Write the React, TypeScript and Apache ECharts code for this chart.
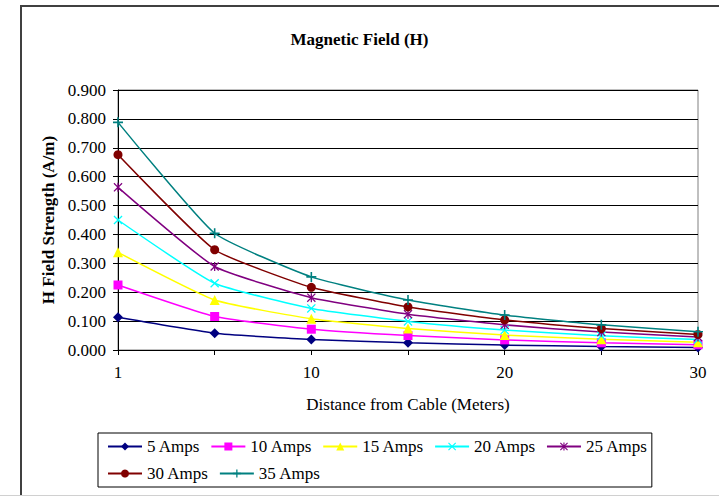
import React, { useEffect, useRef } from "react";
import * as echarts from "echarts";

const categories = ["1", "5", "10", "15", "20", "25", "30"];
const amps5 = [0.113, 0.058, 0.036, 0.025, 0.017, 0.012, 0.009];
const amps10 = [0.225, 0.116, 0.072, 0.05, 0.035, 0.025, 0.018];
const amps15 = [0.338, 0.173, 0.108, 0.074, 0.052, 0.037, 0.027];
const amps20 = [0.45, 0.231, 0.144, 0.099, 0.069, 0.049, 0.036];
const amps25 = [0.563, 0.289, 0.181, 0.124, 0.087, 0.062, 0.045];
const amps30 = [0.676, 0.347, 0.217, 0.149, 0.104, 0.074, 0.054];
const amps35 = [0.788, 0.404, 0.253, 0.173, 0.121, 0.087, 0.063];
const yTicks = [0, 0.1, 0.2, 0.3, 0.4, 0.5, 0.6, 0.7, 0.8, 0.9];

const FONT = "'Liberation Serif', 'Times New Roman', serif";

const PLUS = "path://M4.2,0 L5.8,0 L5.8,4.2 L10,4.2 L10,5.8 L5.8,5.8 L5.8,10 L4.2,10 L4.2,5.8 L0,5.8 L0,4.2 L4.2,4.2 Z";
const CROSS = "path://M0,1 L1,0 L5,4 L9,0 L10,1 L6,5 L10,9 L9,10 L5,6 L1,10 L0,9 L4,5 Z";
const STAR = "path://M0,1 L1,0 L5,4 L9,0 L10,1 L6,5 L10,9 L9,10 L5,6 L1,10 L0,9 L4,5 Z M4.3,0 L5.7,0 L5.7,10 L4.3,10 Z";

const seriesDefs = [
  { name: "5 Amps", data: amps5, color: "#000080", symbol: "diamond", size: 10 },
  { name: "10 Amps", data: amps10, color: "#FF00FF", symbol: "rect", size: 9 },
  { name: "15 Amps", data: amps15, color: "#FFFF00", symbol: "triangle", size: 10 },
  { name: "20 Amps", data: amps20, color: "#00FFFF", symbol: CROSS, size: 9 },
  { name: "25 Amps", data: amps25, color: "#800080", symbol: STAR, size: 9 },
  { name: "30 Amps", data: amps30, color: "#800000", symbol: "circle", size: 9 },
  { name: "35 Amps", data: amps35, color: "#008080", symbol: PLUS, size: 10 },
];

export default function App() {
  const ref = useRef<HTMLDivElement>(null);
  useEffect(() => {
    if (!ref.current) return;
    const chart = echarts.init(ref.current, null, { renderer: "svg" });
    chart.setOption({
      animation: false,
      backgroundColor: "#fff",
      title: {
        text: "Magnetic Field (H)",
        left: "center",
        top: 26,
        textStyle: { fontFamily: FONT, fontSize: 17, fontWeight: "bold", color: "#000" },
      },
      grid: {
        left: 118,
        right: 21,
        top: 90,
        bottom: 146,
        show: true,
        borderColor: "#808080",
        borderWidth: 1,
      },
      xAxis: {
        type: "category",
        data: categories,
        boundaryGap: false,
        name: "Distance from Cable (Meters)",
        nameLocation: "middle",
        nameGap: 46,
        nameTextStyle: { fontFamily: FONT, fontSize: 17, color: "#000" },
        axisLine: { lineStyle: { color: "#000", width: 1 } },
        axisTick: { show: true, interval: 0, length: 5, lineStyle: { color: "#000" } },
        axisLabel: { interval: 1, margin: 14, fontFamily: FONT, fontSize: 17, color: "#000" },
        splitLine: { show: false },
      },
      yAxis: {
        type: "value",
        min: 0,
        max: 0.9,
        interval: 0.1,
        name: "H Field Strength (A/m)",
        nameLocation: "middle",
        nameGap: 60,
        nameTextStyle: { fontFamily: FONT, fontSize: 17, fontWeight: "bold", color: "#000" },
        axisLine: { show: true, lineStyle: { color: "#000", width: 1 } },
        axisTick: { show: true, length: 5, lineStyle: { color: "#000" } },
        axisLabel: {
          margin: 12,
          fontFamily: FONT,
          fontSize: 17,
          color: "#000",
          formatter: (v: number) => {
            const t = yTicks.find((x) => Math.abs(x - v) < 1e-9);
            return (t !== undefined ? t : v).toFixed(3);
          },
        },
        splitLine: { show: true, lineStyle: { color: "#000", width: 1 } },
      },
      legend: {
        left: 98,
        top: 433,
        width: 560,
        orient: "horizontal",
        padding: [5, 4, 5, 9],
        borderColor: "#000",
        borderWidth: 1,
        itemWidth: 34,
        itemHeight: 10,
        itemGap: 10,
        textStyle: { fontFamily: FONT, fontSize: 17, color: "#000", width: 64 },
        data: seriesDefs.map((s) => s.name),
      },
      graphic: [
        { type: "line", shape: { x1: 21, y1: 6, x2: 21, y2: 495 }, style: { stroke: "#404040", lineWidth: 2 }, silent: true },
        { type: "line", shape: { x1: 20, y1: 6, x2: 719, y2: 6 }, style: { stroke: "#404040", lineWidth: 2 }, silent: true },
        { type: "line", shape: { x1: 0, y1: 495.5, x2: 719, y2: 495.5 }, style: { stroke: "#d0d0d0", lineWidth: 1 }, silent: true },
      ],
      series: seriesDefs.map((s) => ({
        name: s.name,
        type: "line",
        data: s.data,
        smooth: 0.15,
        symbol: s.symbol,
        symbolSize: s.size,
        showAllSymbol: true,
        lineStyle: { color: s.color, width: 1.5 },
        itemStyle: { color: s.color, borderWidth: 0 },
        color: s.color,
      })),
    });
    return () => chart.dispose();
  }, []);
  return (
    <div
      ref={ref}
      style={{ position: "fixed", left: 0, top: 0, width: 719, height: 496 }}
    />
  );
}
